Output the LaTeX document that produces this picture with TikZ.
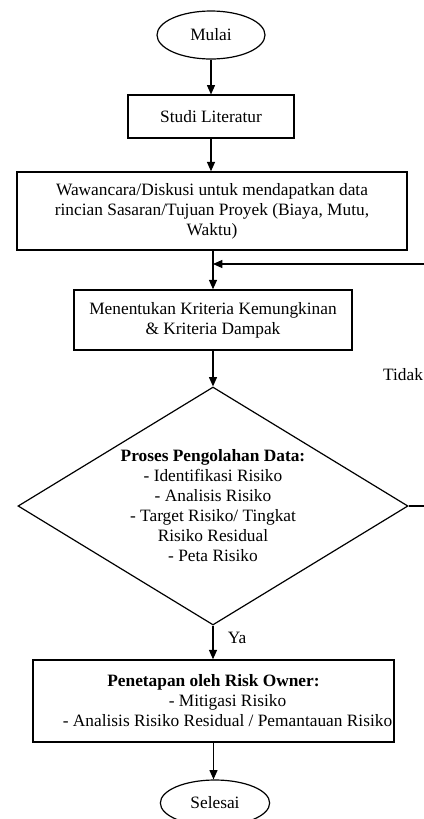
\documentclass[tikz,border=0pt]{standalone}
\usepackage{fontspec}
\setmainfont{Liberation Serif}
\usetikzlibrary{shapes.geometric,arrows.meta}

\begin{document}
\begin{tikzpicture}[x=0.75pt, y=-0.75pt,
        font=\fontsize{13}{15}\selectfont,
        terminal/.style={draw, ellipse, line width=0.9pt, inner sep=0pt},
        prosesbox/.style={draw, rectangle, line width=1.1pt, align=center, inner sep=1pt},
        keputusan/.style={draw, diamond, line width=0.9pt, align=center, inner sep=0pt, shape aspect=1.64},
        panah/.style={line width=0.9pt, -{Triangle[length=7pt,width=6pt]}}]
        \useasboundingbox (0,0) rectangle (424,819);

        % terminal dan proses
        \node[terminal, minimum width=81pt, minimum height=36pt] (mulai) at (211,35) {Mulai};
        \node[prosesbox, minimum width=124.5pt, minimum height=32pt] (studi) at (211,116.5) {Studi Literatur};
        \node[prosesbox, minimum width=292.5pt, minimum height=58.5pt] (wawancara) at (212,211)
            {Wawancara/Diskusi untuk mendapatkan data\\rincian Sasaran/Tujuan Proyek (Biaya, Mutu,\\Waktu)};
        \node[prosesbox, minimum width=208.5pt, minimum height=45pt] (kriteria) at (213,320)
            {Menentukan Kriteria Kemungkinan\\\& Kriteria Dampak};

        % keputusan
        \node[keputusan, minimum width=292.5pt, minimum height=178.5pt] (olah) at (213,506)
            {\textbf{Proses Pengolahan Data:}\\- Identifikasi Risiko\\- Analisis Risiko\\- Target Risiko/ Tingkat\\Risiko Residual\\- Peta Risiko};

        \node[prosesbox, minimum width=270.75pt, minimum height=61.5pt] (penetapan) at (213.5,701)
            {\textbf{Penetapan oleh Risk Owner:}\\\hspace*{21pt}- Mitigasi Risiko\\\hspace*{21pt}- Analisis Risiko Residual / Pemantauan Risiko};
        \node[terminal, minimum width=82pt, minimum height=34.5pt] (selesai) at (215,803) {Selesai};

        % label cabang
        \node (tidak) at (403,375) {Tidak};
        \node (ya) at (237,638) {Ya};

        % alur utama
        \draw[panah] (mulai.south) -- (mulai.south |- studi.north);
        \draw[panah] (studi.south) -- (studi.south |- wawancara.north);
        \draw[panah] (wawancara.south -| kriteria.north) -- (kriteria.north);
        \draw[panah] (kriteria.south) -- (olah.north);
        \draw[panah] (olah.south) -- (penetapan.north -| olah.south);
        \draw[panah] (penetapan.south) -- (penetapan.south |- selesai.north);

        % umpan balik (Tidak)
        \coordinate (sudutbawah) at (440,506);
        \coordinate (sudutatas) at (440,264);
        \coordinate (gabung) at (kriteria.north |- sudutatas);
        \draw[line width=0.9pt] (olah.east) -- (sudutbawah) -- (sudutatas);
        \draw[panah] (sudutatas) -- (gabung);
    \end{tikzpicture}
\end{document}
